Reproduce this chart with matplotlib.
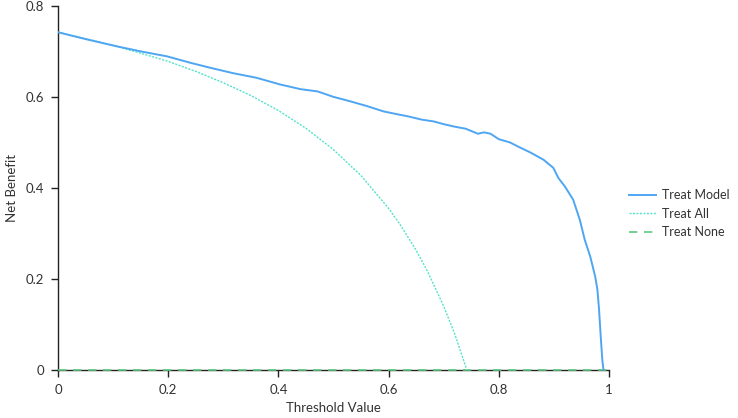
import matplotlib
matplotlib.use("Agg")
import matplotlib.pyplot as plt

# Treat Model curve
model_x = [0, 0.05, 0.107, 0.15, 0.198, 0.24, 0.276, 0.318, 0.36, 0.404, 0.44, 0.471,
           0.50, 0.531, 0.56, 0.591, 0.615, 0.636, 0.66, 0.682, 0.70, 0.718, 0.74,
           0.762, 0.773, 0.785, 0.80, 0.82, 0.838, 0.857, 0.881, 0.899, 0.908, 0.920,
           0.935, 0.947, 0.956, 0.966, 0.975, 0.979, 0.982, 0.985, 0.988, 0.990]
model_y = [0.742, 0.727, 0.711, 0.700, 0.689, 0.675, 0.664, 0.652, 0.642, 0.627, 0.617, 0.612,
           0.600, 0.590, 0.580, 0.568, 0.562, 0.557, 0.550, 0.546, 0.540, 0.535, 0.530,
           0.519, 0.522, 0.519, 0.507, 0.500, 0.489, 0.478, 0.462, 0.444, 0.422, 0.403,
           0.374, 0.330, 0.286, 0.249, 0.205, 0.176, 0.132, 0.073, 0.020, 0.0]

# Treat All curve
all_x = [0, 0.05, 0.1, 0.15, 0.2, 0.25, 0.3, 0.35, 0.4, 0.45, 0.5, 0.55, 0.6, 0.62,
         0.65, 0.67, 0.7, 0.72, 0.742]
all_y = [0.742, 0.728, 0.713, 0.696, 0.678, 0.656, 0.631, 0.603, 0.570, 0.531, 0.484,
         0.427, 0.355, 0.321, 0.263, 0.218, 0.140, 0.079, 0.0]

# Treat None
none_x = [0, 1]
none_y = [0, 0]

x_ticks = [0, 0.2, 0.4, 0.6, 0.8, 1]
x_tick_labels = ["0", "0.2", "0.4", "0.6", "0.8", "1"]
y_ticks = [0, 0.2, 0.4, 0.6, 0.8]
y_tick_labels = ["0", "0.2", "0.4", "0.6", "0.8"]

plt.rcParams['font.family'] = ['Lato', 'DejaVu Sans']

fig = plt.figure(figsize=(7.38, 4.18), dpi=100)
ax = fig.add_axes([0.0786, 0.115, 0.7466, 0.871])

ax.plot(none_x, none_y, color="#5cc77f", lw=1.2, ls=(0, (5, 4)), label="Treat None", zorder=3, clip_on=False)
ax.plot(all_x, all_y, color="#55e3c9", lw=1.0, ls=(0, (1.5, 1)), label="Treat All", zorder=4)
ax.plot(model_x, model_y, color="#4ea6f3", lw=1.4, label="Treat Model", zorder=5)

ax.set_xlim(0, 1)
ax.set_ylim(0, 0.8)
ax.set_xticks(x_ticks)
ax.set_xticklabels(x_tick_labels)
ax.set_yticks(y_ticks)
ax.set_yticklabels(y_tick_labels)
for s in ["top", "right"]:
    ax.spines[s].set_visible(False)
for s in ["left", "bottom"]:
    ax.spines[s].set_color("#222222")
    ax.spines[s].set_linewidth(1.0)
ax.tick_params(direction="out", length=5, width=1, colors="#222222", labelsize=9.5,
               labelcolor="#333333", pad=5)

ax.set_xlabel("Threshold Value", fontsize=9.5, color="#333333")
ax.set_ylabel("Net Benefit", fontsize=9.5, color="#333333")
ax.xaxis.set_label_coords(0.499, -0.088)
ax.yaxis.set_label_coords(-0.072, 0.50)

handles, labels = ax.get_legend_handles_labels()
order = [2, 1, 0]
ax.legend([handles[i] for i in order], [labels[i] for i in order],
          loc="center left", bbox_to_anchor=(1.02, 0.429), frameon=False,
          fontsize=9, labelcolor="#333333", handlelength=2.2, handletextpad=0.45,
          labelspacing=0.5, borderaxespad=0.3)

fig.savefig("out.png", dpi=100)
